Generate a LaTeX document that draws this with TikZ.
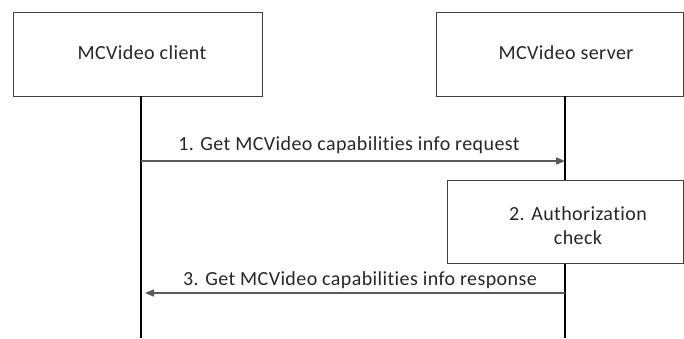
\documentclass[tikz,border=0pt]{standalone}
\usepackage{fontspec}
\setmainfont{Carlito}[Ligatures=NoCommon,LetterSpace=2]
\usetikzlibrary{arrows.meta}
\begin{document}
\begin{tikzpicture}[x=1pt,y=-1pt,
  box/.style={draw=black!75,line width=0.9pt,fill=white},
  lbl/.style={font=\fontsize{20}{24}\selectfont,text=black!85,inner sep=0pt},
  life/.style={draw=black,line width=1.2pt},
  msg/.style={draw=black!65,line width=1.5pt,-{Triangle[length=9pt,width=7pt]}}]
\useasboundingbox (0,0) rectangle (684,338);
\node[box,minimum width=249pt,minimum height=84pt,anchor=north west,inner sep=0pt] (client) at (13,12) {};
\node[box,minimum width=247pt,minimum height=84pt,anchor=north west,inner sep=0pt] (server) at (436,12) {};
\node[lbl] (clientlbl) at (142,53) {MCVideo client};
\node[lbl] (serverlbl) at (566,53) {MCVideo server};
\coordinate (cb) at (141,96);
\coordinate (ce) at (141,338);
\coordinate (sb) at (565,96);
\coordinate (se) at (565,338);
\draw[life] (cb) -- (ce);
\draw[life] (sb) -- (se);
\coordinate (m1s) at (141,161);
\coordinate (m1e) at (565,161);
\draw[msg] (m1s) -- (m1e);
\node[lbl] (m1lbl) at (349,145) {1. Get MCVideo capabilities info request};
\node[box,minimum width=236pt,minimum height=83pt,anchor=north west,inner sep=0pt] (auth) at (447,180) {};
\node[lbl,align=center] (authlbl) at (578,226) {2. Authorization\\check};
\coordinate (m3s) at (565,293);
\coordinate (m3e) at (146,293);
\draw[msg,shorten >=-1pt] (m3s) -- (m3e);
\node[lbl] (m3lbl) at (360,280) {3. Get MCVideo capabilities info response};
\end{tikzpicture}
\end{document}
